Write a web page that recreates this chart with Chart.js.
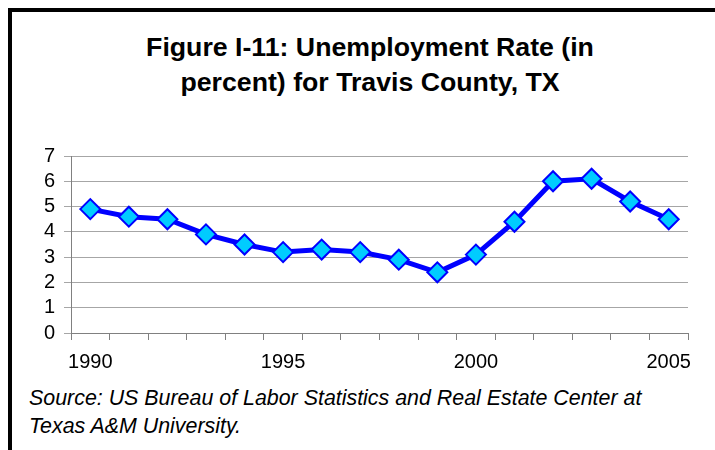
<!DOCTYPE html>
<html>
<head>
<meta charset="utf-8">
<script src="https://cdn.jsdelivr.net/npm/chart.js@4/dist/chart.umd.min.js"></script>
<style>
  html, body { margin: 0; padding: 0; background: #fff; }
  body { width: 715px; height: 450px; position: relative; overflow: hidden; font-family: "Liberation Sans", Arial, sans-serif; }
  #frame { position: absolute; left: 8px; top: 8px; width: 760px; height: 500px; border: 4px solid #000; box-sizing: border-box; }
  #title { position: absolute; left: 0; width: 740px; top: 30px; text-align: center; font-weight: bold; font-size: 26.7px; line-height: 35px; color: #000; }
  #source { position: absolute; left: 29px; top: 384px; font-style: italic; font-size: 21.4px; line-height: 28px; color: #000; }
  #wrap { position: absolute; left: 0; top: 135px; width: 715px; height: 249px; }
</style>
</head>
<body>
<div id="frame"></div>
<div id="title">Figure I-11: Unemployment Rate (in<br>percent) for Travis County, TX</div>
<div id="wrap"><canvas id="c"></canvas></div>
<div id="source">Source: US Bureau of Labor Statistics and Real Estate Center at<br>Texas A&amp;M University.</div>
<script>
const years = [1990,1991,1992,1993,1994,1995,1996,1997,1998,1999,2000,2001,2002,2003,2004,2005];
const rates = [4.9,4.6,4.5,3.9,3.5,3.2,3.3,3.2,2.9,2.4,3.1,4.4,6.0,6.1,5.2,4.5];
const yTicks = [0,1,2,3,4,5,6,7];

new Chart(document.getElementById('c'), {
  type: 'line',
  data: {
    labels: years.map(String),
    datasets: [{
      data: rates,
      borderColor: '#0000FF',
      borderWidth: 5,
      pointStyle: 'rectRot',
      pointRadius: 10,
      pointHoverRadius: 10,
      pointBackgroundColor: '#00CCFF',
      pointBorderColor: '#0000FF',
      pointBorderWidth: 2,
      tension: 0,
      fill: false
    }]
  },
  options: {
    responsive: true,
    maintainAspectRatio: false,
    animation: false,
    events: [],
    layout: { padding: { left: 0, right: 27, top: 6, bottom: 0 } },
    plugins: { legend: { display: false }, tooltip: { enabled: false }, title: { display: false } },
    scales: {
      x: {
        type: 'category',
        offset: true,
        grid: { offset: true, drawOnChartArea: false, drawTicks: true, tickLength: 7, color: '#808080' },
        border: { color: '#808080', width: 1 },
        ticks: {
          autoSkip: false, maxRotation: 0, minRotation: 0, padding: 10,
          color: '#000', font: { family: '"Liberation Sans", Arial, sans-serif', size: 20 },
          callback: function(v, i) { const y = years[i]; return (y % 5 === 0) ? String(y) : ''; }
        }
      },
      y: {
        min: yTicks[0], max: yTicks[yTicks.length - 1],
        afterFit: function(s) { s.width = 71; },
        afterBuildTicks: function(s) { s.ticks = yTicks.map(v => ({ value: v })); },
        grid: { color: '#a6a6a6', drawTicks: true, tickLength: 7 },
        border: { color: '#808080', width: 1 },
        ticks: { autoSkip: false, padding: 9, color: '#000', font: { family: '"Liberation Sans", Arial, sans-serif', size: 20 } }
      }
    }
  }
});
</script>
</body>
</html>
